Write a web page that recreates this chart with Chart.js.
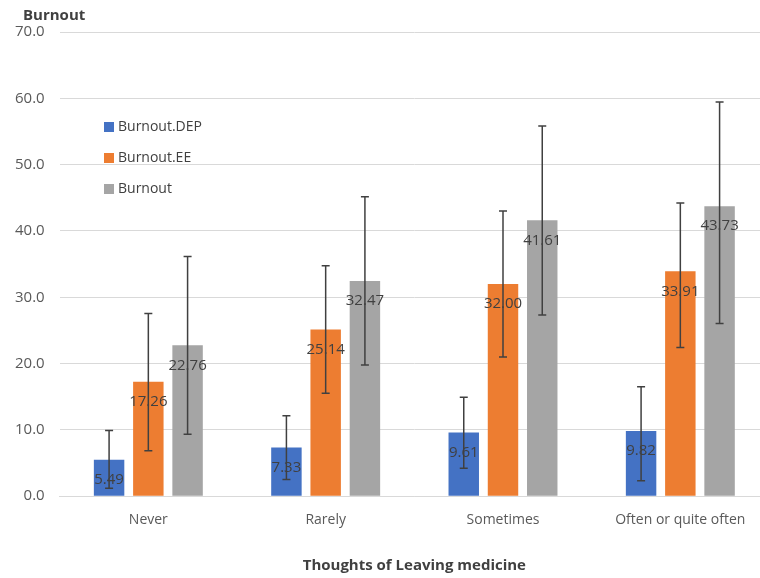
<!DOCTYPE html>
<html>
<head>
<meta charset="utf-8">
<script src="https://cdn.jsdelivr.net/npm/chart.js@4.4.0/dist/chart.umd.min.js"></script>
<style>
  html, body { margin: 0; padding: 0; background: #fff; overflow: hidden; }
  #wrap { width: 770px; height: 578px; }
</style>
</head>
<body>
<div id="wrap"><canvas id="miGrafica"></canvas></div>
<script>
// categories and values
const categorias = ["Never", "Rarely", "Sometimes", "Often or quite often"];
const burnoutDEP = [5.49, 7.33, 9.61, 9.82];
const burnoutEE = [17.26, 25.14, 32.00, 33.91];
const burnoutTotal = [22.76, 32.47, 41.61, 43.73];
// error bars (estimated), up and down amounts
const masDEP = [4.4, 4.8, 5.3, 6.7];
const menosDEP = [4.3, 4.8, 5.4, 7.5];
const masEE = [10.3, 9.6, 11.0, 10.3];
const menosEE = [10.4, 9.6, 11.0, 11.5];
const masTotal = [13.4, 12.7, 14.2, 15.7];
const menosTotal = [13.4, 12.7, 14.3, 17.7];
const yTicks = [0, 10, 20, 30, 40, 50, 60, 70];

const fuente = "'Open Sans', 'Noto Sans', sans-serif";

// error bars + labels inside the bar tops
const extras = {
  id: "extras",
  afterDatasetsDraw(chart) {
    const ctx = chart.ctx;
    const y = chart.scales.y;
    chart.data.datasets.forEach((ds, i) => {
      const meta = chart.getDatasetMeta(i);
      meta.data.forEach((bar, j) => {
        const v = ds.data[j];
        // label
        ctx.save();
        ctx.font = "15px " + fuente;
        ctx.fillStyle = "#404040";
        ctx.textAlign = "center";
        ctx.textBaseline = "middle";
        ctx.fillText(v.toFixed(2), bar.x, bar.y + 20);
        ctx.restore();
        // error bar
        const top = y.getPixelForValue(v + ds.mas[j]);
        const bot = y.getPixelForValue(v - ds.menos[j]);
        ctx.save();
        ctx.strokeStyle = "#404040";
        ctx.lineWidth = 1.5;
        ctx.beginPath();
        ctx.moveTo(bar.x, top); ctx.lineTo(bar.x, bot);
        ctx.moveTo(bar.x - 4, top); ctx.lineTo(bar.x + 4, top);
        ctx.moveTo(bar.x - 4, bot); ctx.lineTo(bar.x + 4, bot);
        ctx.stroke();
        ctx.restore();
      });
    });
  },
  afterDraw(chart) {
    const ctx = chart.ctx;
    ctx.save();
    // axis title on top
    ctx.font = "bold 15px " + fuente;
    ctx.fillStyle = "#404040";
    ctx.textBaseline = "middle";
    ctx.fillText("Burnout", 23, 16);
    // legend inside the plot
    ctx.font = "14px " + fuente;
    chart.data.datasets.forEach((ds, i) => {
      const yy = 127 + i * 31;
      ctx.fillStyle = ds.backgroundColor;
      ctx.fillRect(104, yy - 5, 10, 10);
      ctx.fillStyle = "#404040";
      ctx.fillText(ds.label, 118, yy);
    });
    ctx.restore();
  }
};

new Chart(document.getElementById("miGrafica").getContext("2d"), {
  type: "bar",
  data: {
    labels: categorias,
    datasets: [
      { label: "Burnout.DEP", data: burnoutDEP, mas: masDEP, menos: menosDEP, backgroundColor: "#4472C4" },
      { label: "Burnout.EE", data: burnoutEE, mas: masEE, menos: menosEE, backgroundColor: "#ED7D31" },
      { label: "Burnout", data: burnoutTotal, mas: masTotal, menos: menosTotal, backgroundColor: "#A5A5A5" }
    ]
  },
  options: {
    responsive: true,
    maintainAspectRatio: false,
    animation: false,
    categoryPercentage: 0.664,
    barPercentage: 0.776,
    layout: { padding: { left: 0, top: 32, right: 1, bottom: 3 } },
    plugins: {
      legend: { display: false },
      tooltip: { enabled: false }
    },
    scales: {
      x: {
        grid: { display: false },
        border: { color: "#d9d9d9" },
        ticks: { color: "#595959", padding: 7, font: { family: fuente, size: 14 } },
        title: {
          display: true,
          text: "Thoughts of Leaving medicine",
          color: "#404040",
          padding: { top: 22, bottom: 0 },
          font: { family: fuente, size: 15, weight: "bold" }
        }
      },
      y: {
        min: 0,
        max: 70,
        afterBuildTicks(scale) { scale.ticks = yTicks.map(v => ({ value: v })); },
        grid: { color: "#d9d9d9", drawTicks: false },
        border: { display: false },
        ticks: {
          color: "#595959",
          padding: 15,
          font: { family: fuente, size: 15 },
          callback: v => v.toFixed(1)
        }
      }
    }
  },
  plugins: [extras]
});
</script>
</body>
</html>
